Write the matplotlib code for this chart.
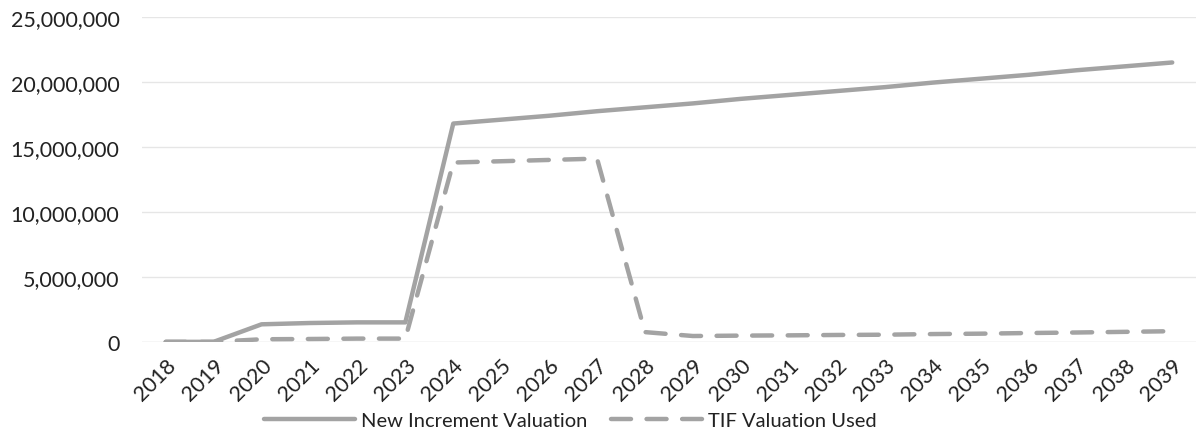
import matplotlib
matplotlib.use("Agg")
import matplotlib.pyplot as plt
from matplotlib.ticker import FuncFormatter

years = [str(y) for y in range(2018, 2040)]
new_increment = [0, 0, 1.35e6, 1.45e6, 1.5e6, 1.5e6, 16.8e6, 17.1e6, 17.4e6, 17.75e6,
                 18.05e6, 18.35e6, 18.7e6, 19.0e6, 19.3e6, 19.6e6, 19.95e6, 20.25e6,
                 20.55e6, 20.9e6, 21.2e6, 21.5e6]
tif_used = [0, 0, 0.2e6, 0.22e6, 0.25e6, 0.25e6, 13.8e6, 13.9e6, 14.0e6, 14.1e6,
            0.75e6, 0.45e6, 0.48e6, 0.5e6, 0.53e6, 0.55e6, 0.6e6, 0.63e6,
            0.68e6, 0.72e6, 0.77e6, 0.82e6]
yticks = [0, 5e6, 10e6, 15e6, 20e6, 25e6]

plt.rcParams['font.family'] = ['Lato', 'DejaVu Sans']
fig = plt.figure(figsize=(12.01, 4.39), dpi=100)
ax = fig.add_axes([0.118, 0.219, 0.878, 0.74])
x = list(range(len(years)))
color = '#a3a3a3'
ax.plot(x, new_increment, color=color, lw=3.2, solid_capstyle='round',
        label='New Increment Valuation')
ax.plot(x, tif_used, color=color, lw=3.2, dashes=(4.5, 3.5), dash_capstyle='round',
        label='TIF Valuation Used')
ax.set_xlim(-0.5, len(years) - 0.5)
ax.set_ylim(0, 25e6)
ax.set_yticks(yticks)
ax.yaxis.set_major_formatter(FuncFormatter(lambda v, p: f"{int(v):,}"))
ax.set_xticks(x)
ax.set_xticklabels(years, rotation=45, ha='right', rotation_mode='anchor')
ax.tick_params(axis='both', length=0, colors='#222222')
ax.tick_params(axis='y', pad=16, labelsize=15.5)
ax.tick_params(axis='x', pad=9, labelsize=15.5)
ax.grid(axis='y', color='#e6e6e6', lw=1)
for s in ax.spines.values():
    s.set_visible(False)
ax.axhline(0, color='#e6e6e6', lw=1, zorder=0)
leg = fig.legend(loc='lower center', bbox_to_anchor=(0.475, -0.02), ncol=2, frameon=False,
                 fontsize=14.5, handlelength=4.5, columnspacing=1.2, handletextpad=0.3)
for t in leg.get_texts():
    t.set_color('#222222')
fig.savefig('out.png', dpi=100)
